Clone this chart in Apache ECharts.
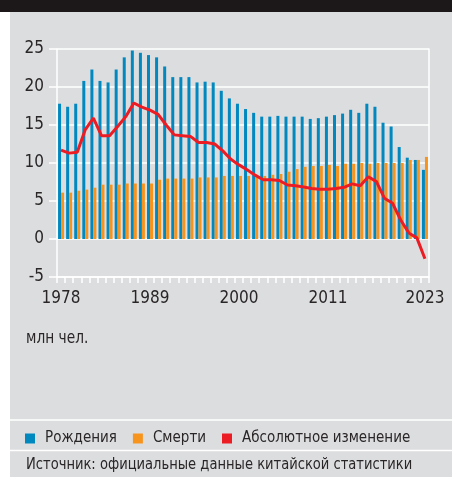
<!DOCTYPE html>
<html><head><meta charset="utf-8">
<script src="https://cdn.jsdelivr.net/npm/echarts@6/dist/echarts.min.js"></script>
<style>html,body{margin:0;padding:0;background:#fff}#c{width:452px;height:477px}</style>
</head><body><div id="c"></div><script>
const years = ['1978','1979','1980','1981','1982','1983','1984','1985','1986','1987','1988','1989','1990','1991','1992','1993','1994','1995','1996','1997','1998','1999','2000','2001','2002','2003','2004','2005','2006','2007','2008','2009','2010','2011','2012','2013','2014','2015','2016','2017','2018','2019','2020','2021','2022','2023'];
const births = [17.8,17.4,17.8,20.8,22.3,20.8,20.6,22.3,23.9,24.8,24.5,24.2,23.9,22.7,21.3,21.3,21.3,20.6,20.7,20.6,19.5,18.5,17.8,17.1,16.6,16.1,16.1,16.2,16.1,16.1,16.1,15.8,15.9,16.1,16.3,16.5,17.0,16.6,17.8,17.4,15.3,14.8,12.1,10.7,10.4,9.1];
const deaths = [6.1,6.1,6.35,6.5,6.75,7.15,7.15,7.15,7.3,7.3,7.3,7.3,7.8,7.95,7.95,7.95,7.95,8.1,8.1,8.1,8.3,8.3,8.3,8.3,8.3,8.3,8.45,8.55,8.85,9.2,9.5,9.6,9.6,9.75,9.6,9.9,9.9,10.0,9.9,10.0,10.0,10.0,10.0,10.4,10.4,10.8];
const change = [11.7,11.3,11.4,14.4,15.9,13.6,13.6,14.8,16.1,17.9,17.35,16.95,16.4,15.0,13.7,13.6,13.5,12.7,12.7,12.5,11.6,10.5,9.75,9.1,8.4,7.8,7.8,7.7,7.1,7.0,6.85,6.65,6.55,6.55,6.65,6.8,7.25,7.0,8.2,7.55,5.35,4.7,2.5,0.8,0.15,-2.6];
const labelYears = ['1978','1989','2000','2011','2023'];
const seriesNames = ['Рождения','Смерти','Абсолютное изменение'];
const unitText = 'млн чел.';
const sourceText = 'Источник: официальные данные китайской статистики';

const FONT = "'DejaVu Sans Condensed','Liberation Sans Narrow',sans-serif";
const TXT = '#2a2627';
const BLUE = '#0088bf', ORANGE = '#f7941e', RED = '#ec1c24';

const chart = echarts.init(document.getElementById('c'), null, {renderer:'canvas'});
chart.setOption({
  backgroundColor: '#dcdddf',
  animation: false,
  textStyle: {fontFamily: FONT},
  grid: {left: 57, right: 23, top: 49, bottom: 200, containLabel: false},
  legend: {
    left: 25, top: 431, padding: 0, icon: 'rect', itemWidth: 10, itemHeight: 10, itemGap: 16,
    data: seriesNames,
    textStyle: {fontFamily: FONT, fontSize: 15, color: TXT, padding: [0,0,0,5]}
  },
  xAxis: {
    type: 'category', data: years, boundaryGap: true,
    axisLine: {show: true, onZero: false, lineStyle: {color: '#fff', width: 1.5}},
    axisTick: {show: true, interval: 0, length: 6, lineStyle: {color: '#fff', width: 1.5}},
    axisLabel: {
      interval: (i, v) => labelYears.indexOf(v) >= 0,
      fontFamily: FONT, fontSize: 17, color: TXT, margin: 13
    },
    splitLine: {show: false}
  },
  yAxis: [{
    type: 'value', min: -5, max: 25, interval: 5,
    axisLine: {show: true, lineStyle: {color: '#fff', width: 1.5}},
    axisTick: {show: true, length: 8, lineStyle: {color: '#fff', width: 1.5}},
    axisLabel: {fontFamily: FONT, fontSize: 17, color: TXT, margin: 13},
    splitLine: {show: true, lineStyle: {color: '#fff', width: 1.5}}
  }, {
    type: 'value', min: -5, max: 25, interval: 5, position: 'right',
    axisLine: {show: true, lineStyle: {color: '#fff', width: 1.5}},
    axisTick: {show: false}, axisLabel: {show: false}, splitLine: {show: false}
  }],
  series: [
    {name: seriesNames[0], type: 'bar', data: births, barWidth: 3, barGap: '0%', itemStyle: {color: BLUE}},
    {name: seriesNames[1], type: 'bar', data: deaths, barWidth: 3, barGap: '0%', itemStyle: {color: ORANGE}},
    {name: seriesNames[2], type: 'line', data: change, showSymbol: false, symbol: 'none', z: 5,
     lineStyle: {color: RED, width: 3}, itemStyle: {color: RED}}
  ],
  graphic: [
    {type: 'rect', shape: {x: 0, y: 0, width: 452, height: 12}, style: {fill: '#1c1718'}},
    {type: 'rect', shape: {x: 0, y: 12, width: 10, height: 465}, style: {fill: '#ffffff'}},
    {type: 'line', shape: {x1: 10, y1: 420, x2: 452, y2: 420}, style: {stroke: '#fff', lineWidth: 1.5}},
    {type: 'line', shape: {x1: 10, y1: 450.5, x2: 452, y2: 450.5}, style: {stroke: '#fff', lineWidth: 1.5}},
    {type: 'text', x: 26, y: 338, scaleX: 0.85, style: {text: unitText, font: '18px ' + FONT, fill: TXT, verticalAlign: 'middle'}},
    {type: 'text', x: 26, y: 465, scaleX: 0.91, style: {text: sourceText, font: '16px ' + FONT, fill: TXT, verticalAlign: 'middle'}}
  ]
});
</script></body></html>
